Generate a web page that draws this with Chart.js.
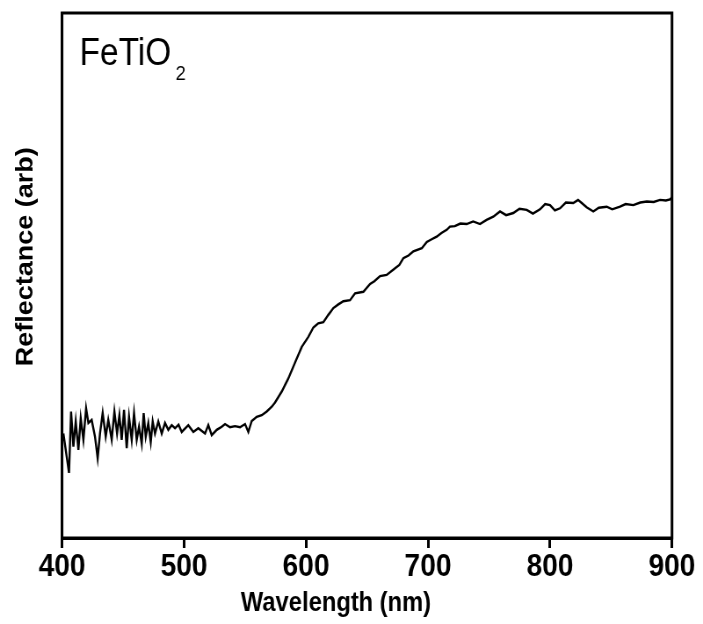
<!DOCTYPE html>
<html>
<head>
<meta charset="utf-8">
<script src="https://cdn.jsdelivr.net/npm/chart.js@4"></script>
<style>
    html, body { margin: 0; padding: 0; background: #fff; }
</style>
</head>
<body>
<!-- the reference is a horizontally squeezed figure, so draw wider and scale down -->
<canvas id="spectrum" width="800" height="624" style="width:703px;height:624px;display:block"></canvas>
<script>
// Diffuse reflectance spectrum of FeTiO2
const wavelengths = [
    401.1, 403.8, 405.7, 407.4, 409.3, 411.2, 413.4, 415.3, 417.5, 419.7,
    421.6, 424.3, 427.0, 429.2, 431.1, 433.3, 435.8, 437.9, 440.7, 442.9,
    445.1, 447.0, 448.9, 450.8, 453.0, 454.9, 457.1, 459.0, 461.2, 463.1,
    465.3, 466.9, 468.6, 470.7, 472.7, 474.3, 476.2, 478.9, 481.7, 484.4,
    487.1, 489.9, 492.6, 495.5, 498.1, 503.5, 507.6, 511.7, 517.2, 519.9,
    522.7, 526.8, 530.9, 533.6, 537.7, 541.8, 545.9, 550.0, 552.7, 555.5,
    559.6, 563.7, 567.8, 571.9, 574.6, 580.1, 585.5, 592.4, 596.5, 601.9,
    606.0, 610.0, 614.2, 618.3, 622.4, 626.5, 630.6, 636.1, 640.2, 647.0,
    652.5, 656.0, 660.7, 666.1, 673.0, 676.5, 679.8, 684.0, 688.0, 694.9,
    699.0, 703.0, 707.1, 711.0, 715.3, 718.0, 722.0, 726.5, 731.7, 737.0,
    742.6, 748.0, 753.5, 759.0, 764.0, 769.9, 775.0, 780.9, 786.0, 791.8,
    796.0, 800.0, 804.0, 808.2, 813.0, 819.1, 823.0, 826.0, 830.0, 835.5,
    840.0, 846.5, 851.0, 857.4, 862.0, 868.3, 874.0, 879.3, 885.0, 890.2,
    895.0, 898.4, 900.0
];
const reflectance = [
    19.9, 15.5, 12.4, 24.1, 17.4, 22.2, 16.8, 22.8, 18.7, 24.7,
    21.9, 22.5, 19.3, 15.2, 19.9, 23.8, 19.3, 22.5, 18.7, 24.1,
    19.9, 23.4, 18.7, 24.4, 17.1, 23.1, 18.7, 23.8, 18.7, 21.2,
    18.0, 23.8, 19.3, 21.9, 18.3, 22.2, 19.9, 22.2, 19.9, 21.9,
    20.6, 21.5, 20.9, 21.6, 20.2, 21.5, 20.2, 20.9, 19.9, 21.5,
    19.6, 20.6, 21.2, 21.7, 21.1, 21.3, 21.1, 21.7, 20.2, 22.3,
    23.1, 23.4, 24.1, 25.0, 25.8, 27.9, 30.4, 34.2, 36.4, 38.3,
    40.1, 40.9, 41.1, 42.5, 43.8, 44.5, 45.1, 45.3, 46.6, 46.9,
    48.4, 48.9, 49.9, 50.1, 51.4, 52.0, 53.3, 53.8, 54.6, 55.2,
    56.4, 56.9, 57.4, 58.1, 58.7, 59.3, 59.4, 59.9, 59.8, 60.3,
    59.8, 60.6, 61.2, 62.2, 61.5, 61.9, 62.7, 62.5, 61.8, 62.6,
    63.6, 63.4, 62.4, 62.8, 63.9, 63.8, 64.4, 63.8, 63.0, 62.2,
    62.9, 63.1, 62.6, 63.1, 63.6, 63.4, 63.9, 64.1, 64.0, 64.4,
    64.3, 64.5, 64.9
];
const xTicks = [400, 500, 600, 700, 800, 900];

const sampleName = 'FeTiO';
const sampleSubscript = '2';

const fontFamily = "'Liberation Sans', Arial, Helvetica, sans-serif";

// sample label inside the top left corner of the frame, plus the closed frame itself
const framePlugin = {
    id: 'frameAndLabel',
    afterDraw(chart) {
        const ctx = chart.ctx;
        const area = chart.chartArea;
        ctx.save();
        ctx.strokeStyle = '#000';
        ctx.lineWidth = 3;
        ctx.strokeRect(area.left, area.top, area.right - area.left, area.bottom - area.top);

        ctx.fillStyle = '#000';
        ctx.textBaseline = 'alphabetic';
        ctx.textAlign = 'left';
        ctx.font = `38px ${fontFamily}`;
        const x0 = area.left + 20;
        ctx.fillText(sampleName, x0, area.top + 52);
        const w = ctx.measureText(sampleName).width;
        ctx.font = `21px ${fontFamily}`;
        ctx.fillText(sampleSubscript, x0 + w + 5, area.top + 67);
        ctx.restore();
    }
};

const points = wavelengths.map((w, i) => ({ x: w, y: reflectance[i] }));

new Chart(document.getElementById('spectrum'), {
    type: 'line',
    data: {
        datasets: [{
            label: 'FeTiO2',
            data: points,
            borderColor: '#000',
            borderWidth: 2.4,
            pointRadius: 0,
            tension: 0,
            fill: false
        }]
    },
    options: {
        responsive: false,
        devicePixelRatio: 1,
        animation: false,
        layout: {
            padding: { left: 0, right: 35.3, top: 13, bottom: 0 }
        },
        plugins: {
            legend: { display: false },
            tooltip: { enabled: false },
            // x axis title sits centred on the figure rather than on the plot box
            title: {
                display: true,
                position: 'bottom',
                text: 'Wavelength (nm)',
                color: '#000',
                font: { family: fontFamily, size: 27, weight: 'bold' },
                padding: { top: 1, bottom: 4.2 }
            }
        },
        scales: {
            x: {
                type: 'linear',
                min: 400,
                max: 900,
                afterBuildTicks: (axis) => {
                    axis.ticks = xTicks.map(v => ({ value: v }));
                },
                ticks: {
                    color: '#000',
                    padding: 0,
                    maxRotation: 0,
                    font: { family: fontFamily, size: 32, weight: 'bold' }
                },
                grid: {
                    display: true,
                    drawOnChartArea: false,
                    drawTicks: true,
                    tickLength: 10,
                    color: '#000',
                    lineWidth: 3
                },
                border: { display: true, color: '#000', width: 3 }
            },
            y: {
                min: 0,
                max: 100,
                ticks: { display: false },
                grid: { display: false, drawTicks: false },
                border: { display: true, color: '#000', width: 3 },
                title: {
                    display: true,
                    text: '     Reflectance (arb)',
                    color: '#000',
                    font: { family: fontFamily, size: 27, weight: 'bold' },
                    padding: { top: 13.4, bottom: 24.8 }
                }
            }
        }
    },
    plugins: [framePlugin]
});
</script>
</body>
</html>
